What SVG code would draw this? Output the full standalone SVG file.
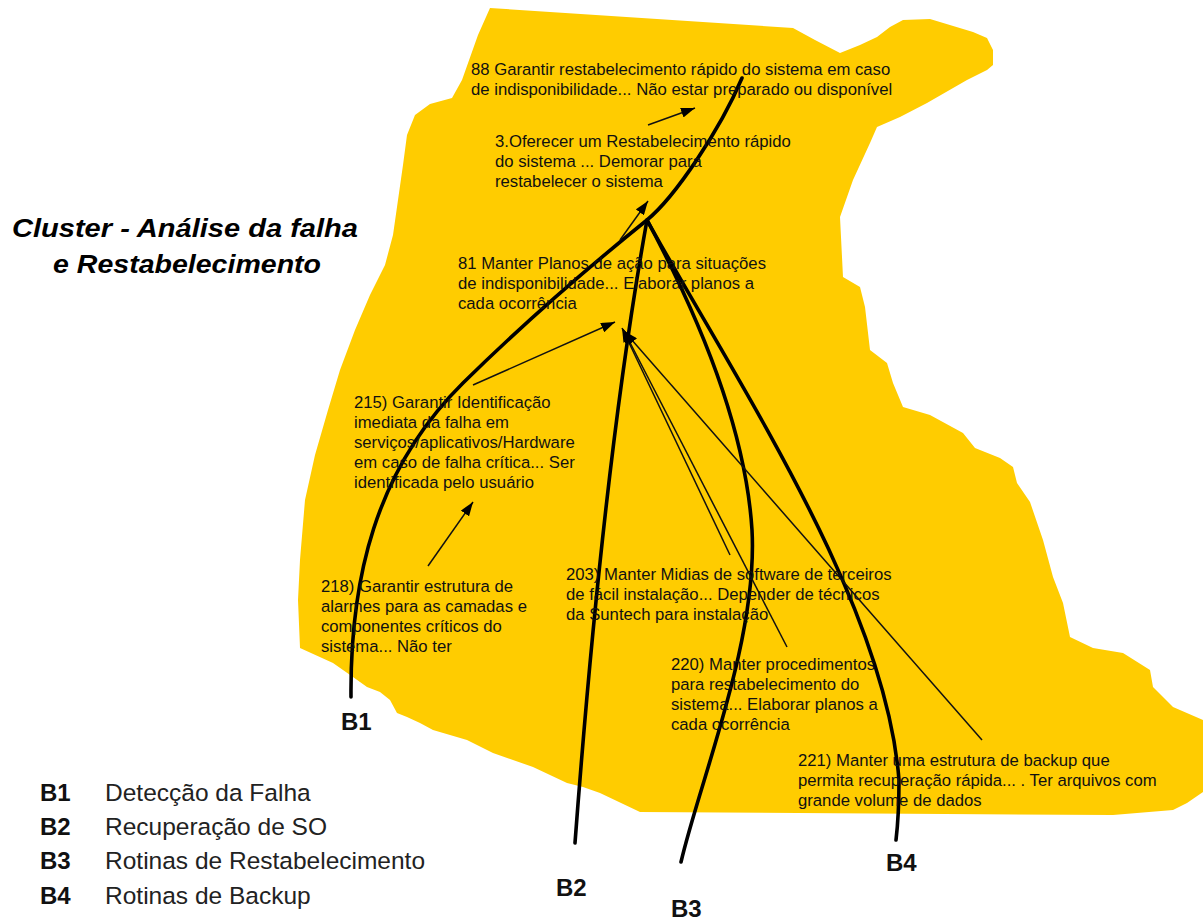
<svg xmlns="http://www.w3.org/2000/svg" width="1203" height="920" viewBox="0 0 1203 920">
<style>
.t{font-family:"Liberation Sans",Arial,sans-serif;font-size:16.7px;fill:#111}
.bl{font-family:"Liberation Sans",Arial,sans-serif;font-size:24px;font-weight:bold;fill:#111}
.lg{font-family:"Liberation Sans",Arial,sans-serif;font-size:24.5px;fill:#222}
.ttl{font-family:"Liberation Sans",Arial,sans-serif;font-size:25px;font-weight:bold;font-style:italic;fill:#000}
.thick{fill:none;stroke:#000;stroke-width:3.6;stroke-linecap:round}
.thin{fill:none;stroke:#111;stroke-width:1.5;marker-end:url(#ah)}
</style>
<defs>
<marker id="ah" viewBox="0 0 14 10" refX="14" refY="5" markerWidth="14" markerHeight="10" markerUnits="userSpaceOnUse" orient="auto">
<path d="M0,0 L14,5 L0,10 z" fill="#000"/>
</marker>
</defs>
<rect width="1203" height="920" fill="#fff"/>
<g id="cluster-area">
<path fill="#FFCC00" d="M490,8 L793,28 L815,40 L840,53 L860,45 L877,37 L890,27 L903,20 L930,19 L973,32 L987,38 L993,50 L993,65 L987,70 L967,80 L927,103 L900,117 L877,127 L870,143 L853,180 L840,217 L843,277 L860,287 L865,307 L870,350 L887,363 L893,383 L903,407 L930,415 L963,433 L975,448 L1000,458 L1013,467 L1017,483 L1030,502 L1043,540 L1053,577 L1063,603 L1070,637 L1093,648 L1123,653 L1150,670 L1153,687 L1173,707 L1203,720 L1203,792 L1187,803 L1173,810 L1113,815 L640,812 L600,793 L583,787 L567,783 L533,767 L493,753 L467,740 L433,730 L420,723 L407,717 L397,713 L390,700 L380,692 L367,687 L353,677 L333,663 L300,648 L298,600 L300,560 L305,500 L315,455 L328,410 L340,370 L355,330 L370,295 L385,265 L393,235 L398,200 L403,165 L407,135 L415,115 L430,104 L452,98 L462,80 L478,35 Z"/>
</g>
<g id="title">
<text class="ttl" x="12" y="237" textLength="346" lengthAdjust="spacingAndGlyphs">Cluster - Análise da falha</text>
<text class="ttl" x="53" y="273" textLength="268" lengthAdjust="spacingAndGlyphs">e Restabelecimento</text>
</g>
<g id="connectors">
<path class="thick" d="M351,697 C350,580 375,470 463,383 C530,317 590,266 647,220 C675,197 720,130 742,78"/>
<path class="thick" d="M647,220 C611,420 590,643 575,843"/>
<path class="thick" d="M647,220 C690,300 745,420 752,530 C758,640 700,780 681,862"/>
<path class="thick" d="M647,220 C735,380 885,600 899,780 Q899,815 896,840"/>
<path class="thin" d="M648,125 L695,108"/>
<path class="thin" d="M620,240 L648,201"/>
<path class="thin" d="M473,385 L615,322"/>
<path class="thin" d="M428,566 L473,502"/>
<path class="thin" d="M730,555 L622,328"/>
<path class="thin" d="M787,647 L623,329"/>
<path class="thin" d="M982,740 L624,331"/>
</g>
<g id="n88"><text class="t"><tspan x="471" y="75">88 Garantir restabelecimento rápido do sistema em caso</tspan><tspan x="471" y="95">de indisponibilidade...  Não estar preparado ou disponível</tspan></text></g>
<g id="n3"><text class="t"><tspan x="495" y="147">3.Oferecer um Restabelecimento rápido</tspan><tspan x="495" y="167">do sistema ... Demorar para</tspan><tspan x="495" y="187">restabelecer o sistema</tspan></text></g>
<g id="n81"><text class="t"><tspan x="458" y="269">81 Manter Planos de ação para situações</tspan><tspan x="458" y="289">de indisponibilidade...  Elaborar planos a</tspan><tspan x="458" y="309">cada ocorrência</tspan></text></g>
<g id="n215"><text class="t"><tspan x="354" y="408">215) Garantir Identificação</tspan><tspan x="354" y="428">imediata da falha em</tspan><tspan x="354" y="448">serviços/aplicativos/Hardware</tspan><tspan x="354" y="468">em caso de falha crítica...  Ser</tspan><tspan x="354" y="488">identificada pelo usuário</tspan></text></g>
<g id="n218"><text class="t"><tspan x="321" y="592">218) Garantir estrutura de</tspan><tspan x="321" y="612">alarmes para as camadas e</tspan><tspan x="321" y="632">componentes críticos do</tspan><tspan x="321" y="652">sistema... Não ter</tspan></text></g>
<g id="n203"><text class="t"><tspan x="566" y="580">203) Manter Midias de software de terceiros</tspan><tspan x="566" y="600">de fácil instalação... Depender de técnicos</tspan><tspan x="566" y="620">da Suntech para instalação</tspan></text></g>
<g id="n220"><text class="t"><tspan x="671" y="670">220) Manter procedimentos</tspan><tspan x="671" y="690">para restabelecimento do</tspan><tspan x="671" y="710">sistema... Elaborar planos a</tspan><tspan x="671" y="730">cada ocorrência</tspan></text></g>
<g id="n221"><text class="t"><tspan x="798" y="766">221) Manter uma estrutura de backup que</tspan><tspan x="798" y="786">permita recuperação rápida... . Ter arquivos com</tspan><tspan x="798" y="806">grande volume de dados</tspan></text></g>
<g id="B1"><text class="bl" x="341" y="730">B1</text></g>
<g id="B2"><text class="bl" x="556" y="896">B2</text></g>
<g id="B3"><text class="bl" x="671" y="917">B3</text></g>
<g id="B4"><text class="bl" x="886" y="871">B4</text></g>
<g id="legend">
<text class="bl" x="40" y="801">B1</text><text class="lg" x="105" y="801">Detecção da Falha</text>
<text class="bl" x="40" y="835">B2</text><text class="lg" x="105" y="835">Recuperação de SO</text>
<text class="bl" x="40" y="869">B3</text><text class="lg" x="105" y="869">Rotinas de Restabelecimento</text>
<text class="bl" x="40" y="904">B4</text><text class="lg" x="105" y="904">Rotinas de Backup</text>
</g>
</svg>
